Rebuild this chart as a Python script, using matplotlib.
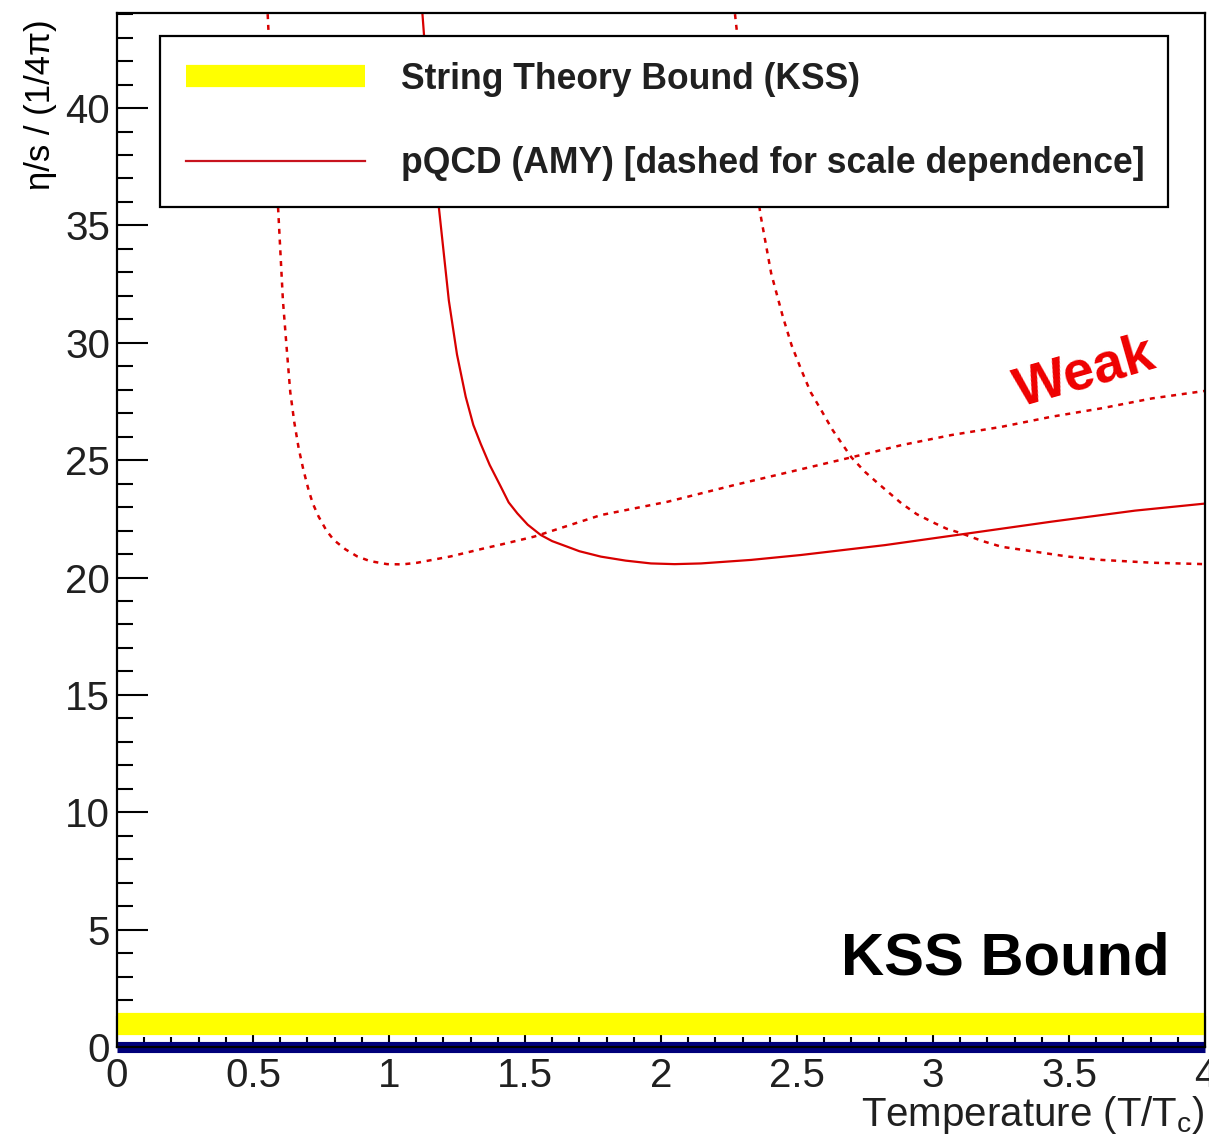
import matplotlib
matplotlib.use("Agg")
import matplotlib.pyplot as plt
from matplotlib.lines import Line2D
from matplotlib.ticker import MultipleLocator, FixedLocator

plt.rcParams['font.family'] = ['Liberation Sans', 'DejaVu Sans']
plt.rcParams['mathtext.fontset'] = 'custom'
plt.rcParams['mathtext.rm'] = 'Liberation Sans'
plt.rcParams['mathtext.it'] = 'Liberation Sans'

# pQCD (AMY) eta/s in units of 1/4pi, central scale
amy_T = [1.123, 1.15, 1.183, 1.220, 1.25, 1.282, 1.31, 1.337, 1.37, 1.411,
         1.44, 1.472, 1.51, 1.558, 1.60, 1.656, 1.70, 1.779, 1.87, 1.963,
         2.05, 2.147, 2.331, 2.515, 2.823, 3.13, 3.436, 3.743, 4.0]
amy_eta = [44.0, 39.8, 35.8, 31.8, 29.5, 27.7, 26.5, 25.7, 24.8, 23.87,
           23.2, 22.73, 22.25, 21.81, 21.55, 21.31, 21.12, 20.89, 20.72, 20.6,
           20.57, 20.6, 20.75, 20.96, 21.38, 21.88, 22.38, 22.85, 23.15]

# scale variations (dashed)
amy_lo_T = [0.554, 0.570, 0.592, 0.610, 0.625, 0.637, 0.652, 0.668, 0.685, 0.705,
            0.72, 0.741, 0.77, 0.797, 0.84, 0.883, 0.93, 0.993, 1.05, 1.104,
            1.227, 1.349, 1.41, 1.533, 1.779, 2.025, 2.27, 2.503, 2.70, 2.884,
            3.068, 3.252, 3.436, 3.62, 3.805, 4.0]
amy_lo_eta = [44.0, 40.0, 35.8, 31.8, 29.6, 27.9, 26.6, 25.5, 24.6, 23.7,
              23.15, 22.6, 22.0, 21.6, 21.2, 20.9, 20.7, 20.57, 20.56, 20.63,
              20.9, 21.24, 21.4, 21.74, 22.66, 23.23, 23.94, 24.58, 25.12, 25.64,
              26.07, 26.42, 26.85, 27.21, 27.63, 27.95]

amy_hi_T = [2.272, 2.31, 2.366, 2.405, 2.448, 2.48, 2.516, 2.55, 2.589, 2.63,
            2.669, 2.70, 2.75, 2.798, 2.884, 2.94, 3.007, 3.05, 3.105, 3.18,
            3.252, 3.375, 3.498, 3.62, 3.805, 4.0]
amy_hi_eta = [44.0, 40.0, 35.44, 32.96, 31.11, 29.9, 28.84, 27.9, 27.13, 26.3,
              25.64, 25.12, 24.5, 24.01, 23.16, 22.7, 22.31, 22.08, 21.88, 21.56,
              21.31, 21.1, 20.89, 20.75, 20.63, 20.57]

# string theory (KSS) bound and the zero line
T_range = [0.0, 4.0]
kss_eta = [1.0, 1.0]
zero_eta = [0.0, 0.0]

x_ticks = [0, 0.5, 1, 1.5, 2, 2.5, 3, 3.5, 4]
x_labels = ['0', '0.5', '1', '1.5', '2', '2.5', '3', '3.5', '4']
y_ticks = [0, 5, 10, 15, 20, 25, 30, 35, 40]
y_labels = ['0', '5', '10', '15', '20', '25', '30', '35', '40']

red = '#d80000'
fig = plt.figure(figsize=(12.09, 11.40), dpi=100)
ax = fig.add_axes([117 / 1209, 1 - 1047 / 1140, 1088 / 1209, 1034.5 / 1140])

ax.plot(amy_lo_T, amy_lo_eta, color=red, lw=1.8, linestyle=(0, (2.0, 2.3)))
ax.plot(amy_hi_T, amy_hi_eta, color=red, lw=1.8, linestyle=(0, (2.0, 2.3)))
ax.plot(amy_T, amy_eta, color=red, lw=1.6)
ax.plot(T_range, kss_eta, color='#ffff00', lw=16, solid_capstyle='butt')
ax.plot(T_range, zero_eta, color='#00007a', lw=8, solid_capstyle='butt', clip_on=False)

ax.set_xlim(0, 4)
ax.set_ylim(0, 44.07)
ax.set_axisbelow(True)

ax.xaxis.set_major_locator(FixedLocator(x_ticks))
ax.set_xticklabels(x_labels)
ax.xaxis.set_minor_locator(MultipleLocator(0.1))
ax.yaxis.set_major_locator(FixedLocator(y_ticks))
ax.set_yticklabels(y_labels)
ax.yaxis.set_minor_locator(MultipleLocator(1))

ax.tick_params(axis='both', which='both', direction='in', width=1.5, colors='black',
               labelsize=29, labelcolor='#202020')
ax.tick_params(axis='y', which='major', length=22, pad=5)
ax.tick_params(axis='y', which='minor', length=11.5)
ax.tick_params(axis='x', which='major', length=22, pad=7)
ax.tick_params(axis='x', which='minor', length=7)
for side in ['left', 'top', 'right', 'bottom']:
    ax.spines[side].set_linewidth(1.6)

ax.text(-0.07, 0.993, r'η/s / (1/4π)', transform=ax.transAxes, rotation=90,
        ha='center', va='top', fontsize=25)
fig.text(1205 / 1209, 1 - 1094 / 1140, r'Temperature (T/T$_c$)', ha='right', va='top',
         fontsize=29, color='#202020')

ax.text(3.871, 3.07, 'KSS Bound', ha='right', va='baseline', fontsize=43,
        fontweight='bold')
ax.text(3.56, 28.7, 'Weak', ha='center', va='center', rotation=16, fontsize=40,
        fontweight='bold', color='#ee0000')

handles = [Line2D([], [], color='#ffff00', lw=16, solid_capstyle='butt'),
           Line2D([], [], color='#c8141e', lw=1.6)]
labels = ['String Theory Bound (KSS)', 'pQCD (AMY) [dashed for scale dependence]']
leg = ax.legend(handles, labels, loc='upper left', bbox_to_anchor=(0.0395, 0, 0.9265, 0.9773),
                mode='expand', borderaxespad=0, fancybox=False, framealpha=1,
                edgecolor='black', prop={'size': 25.6, 'weight': 'bold'},
                handlelength=5.06, handletextpad=1.0, labelspacing=1.4, borderpad=0.72)
leg.get_frame().set_linewidth(1.6)
for t in leg.get_texts():
    t.set_color('#202020')

fig.savefig('out.png', dpi=100)
